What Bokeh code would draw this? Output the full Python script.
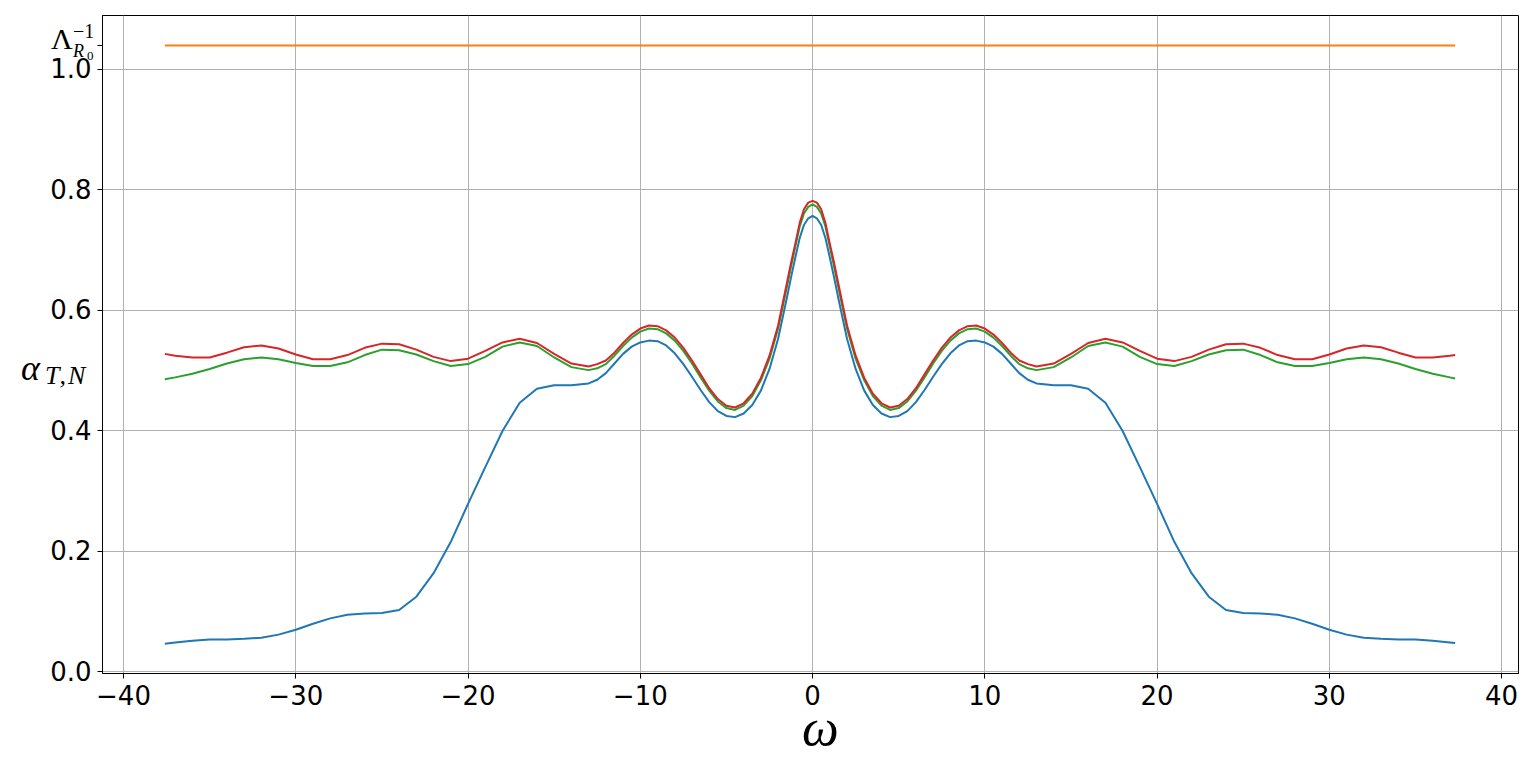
from bokeh.plotting import figure
from bokeh.models import Range1d, FixedTicker, PrintfTickFormatter, Div
from bokeh.layouts import column
from bokeh.embed import file_html
from bokeh.resources import INLINE

# ---------------- data ----------------
omega = [-37.6, -37, -36, -35, -34, -33, -32, -31, -30, -29, -28, -27, -26, -25, -24,
         -23, -22, -21, -20, -19, -18, -17, -16, -15, -14, -13,
         -12.5, -12, -11.5, -11, -10.5, -10, -9.5, -9, -8.5, -8, -7.5, -7, -6.5, -6,
         -5.5, -5, -4.5, -4, -3.5, -3, -2.5, -2, -1.5,
         -1.25, -1, -0.75, -0.5, -0.25, 0, 0.25, 0.5, 0.75, 1, 1.25,
         1.5, 2, 2.5, 3, 3.5, 4, 4.5, 5, 5.5, 6, 6.5, 7, 7.5, 8, 8.5, 9,
         9.5, 10, 10.5, 11, 11.5, 12, 12.5,
         13, 14, 15, 16, 17, 18, 19, 20, 21, 22, 23, 24, 25, 26, 27, 28, 29, 30,
         31, 32, 33, 34, 35, 36, 37, 37.3]

alpha_blue = [0.047, 0.049, 0.052, 0.054, 0.054, 0.055, 0.057, 0.062, 0.070, 0.080, 0.089, 0.095, 0.097, 0.098, 0.103,
              0.125, 0.164, 0.216, 0.279, 0.340, 0.400, 0.447, 0.470, 0.476, 0.476, 0.479,
              0.485, 0.496, 0.512, 0.528, 0.540, 0.547, 0.550, 0.549, 0.542, 0.529, 0.511, 0.490, 0.468, 0.448,
              0.433, 0.425, 0.423, 0.429, 0.443, 0.467, 0.503, 0.553, 0.620,
              0.655, 0.688, 0.720, 0.742, 0.753, 0.757, 0.753, 0.742, 0.720, 0.688, 0.655,
              0.620, 0.553, 0.503, 0.467, 0.443, 0.429, 0.423, 0.425, 0.433, 0.448, 0.468, 0.490, 0.511, 0.529, 0.542, 0.549,
              0.550, 0.547, 0.540, 0.528, 0.512, 0.496, 0.485,
              0.479, 0.476, 0.476, 0.470, 0.447, 0.400, 0.340, 0.279, 0.216, 0.164, 0.125, 0.103, 0.098, 0.097, 0.095, 0.089, 0.080, 0.070,
              0.062, 0.057, 0.055, 0.054, 0.054, 0.052, 0.049, 0.048]

alpha_green = [0.486, 0.489, 0.495, 0.503, 0.512, 0.519, 0.522, 0.519, 0.513, 0.508, 0.508, 0.514, 0.526, 0.535, 0.534,
               0.527, 0.516, 0.508, 0.511, 0.523, 0.540, 0.547, 0.541, 0.522, 0.506, 0.501,
               0.504, 0.511, 0.525, 0.541, 0.555, 0.565, 0.570, 0.569, 0.562, 0.550, 0.533, 0.512, 0.489, 0.467,
               0.449, 0.438, 0.435, 0.442, 0.458, 0.484, 0.520, 0.570, 0.638,
               0.673, 0.706, 0.739, 0.761, 0.772, 0.776, 0.772, 0.761, 0.739, 0.706, 0.673,
               0.638, 0.570, 0.520, 0.484, 0.458, 0.442, 0.435, 0.438, 0.449, 0.467, 0.489, 0.512, 0.533, 0.550, 0.562, 0.569,
               0.570, 0.565, 0.555, 0.541, 0.525, 0.511, 0.504,
               0.501, 0.506, 0.522, 0.541, 0.547, 0.540, 0.523, 0.511, 0.508, 0.516, 0.527, 0.534, 0.535, 0.526, 0.514, 0.508, 0.508, 0.513,
               0.519, 0.522, 0.519, 0.512, 0.503, 0.495, 0.489, 0.487]

alpha_red = [0.528, 0.525, 0.522, 0.522, 0.530, 0.539, 0.542, 0.537, 0.527, 0.519, 0.519, 0.526, 0.538, 0.545, 0.544,
             0.535, 0.523, 0.516, 0.520, 0.533, 0.547, 0.553, 0.546, 0.528, 0.512, 0.507,
             0.511, 0.517, 0.530, 0.546, 0.560, 0.570, 0.575, 0.574, 0.567, 0.555, 0.538, 0.517, 0.494, 0.471,
             0.453, 0.442, 0.439, 0.446, 0.462, 0.488, 0.525, 0.575, 0.644,
             0.679, 0.711, 0.745, 0.768, 0.779, 0.782, 0.779, 0.768, 0.745, 0.711, 0.679,
             0.644, 0.575, 0.525, 0.488, 0.462, 0.446, 0.439, 0.442, 0.453, 0.471, 0.494, 0.517, 0.538, 0.555, 0.567, 0.574,
             0.575, 0.570, 0.560, 0.546, 0.530, 0.517, 0.511,
             0.507, 0.512, 0.528, 0.546, 0.553, 0.547, 0.533, 0.520, 0.516, 0.523, 0.535, 0.544, 0.545, 0.538, 0.526, 0.519, 0.519, 0.527,
             0.537, 0.542, 0.539, 0.530, 0.522, 0.522, 0.525, 0.526]

lambda_inv = 1.04
omega_span = [-37.6, 37.3]
orange_vals = [lambda_inv, lambda_inv]

x_ticks = [-40, -30, -20, -10, 0, 10, 20, 30, 40]
y_ticks = [0.0, 0.2, 0.4, 0.6, 0.8, 1.0]

W, H = 1528, 755

# ---------------- figure ----------------
p = figure(width=W, height=H, output_backend="svg", toolbar_location=None,
           x_range=Range1d(-41.22, 40.98), y_range=Range1d(-0.0025, 1.0896),
           min_border_left=102, min_border_right=10, min_border_top=15, min_border_bottom=82)
p.background_fill_color = "white"
p.border_fill_color = "white"
p.outline_line_color = "black"
p.outline_line_width = 1

p.line(omega, alpha_blue, line_color="#1f77b4", line_width=2)
p.line(omega_span, orange_vals, line_color="#ff7f0e", line_width=2)
p.line(omega, alpha_green, line_color="#2ca02c", line_width=2)
p.line(omega, alpha_red, line_color="#d62728", line_width=2)

# axes
p.xaxis.ticker = FixedTicker(ticks=x_ticks)
p.xaxis.major_label_overrides = {t: (str(t).replace("-", "\u2212")) for t in x_ticks}
p.yaxis.ticker = FixedTicker(ticks=y_ticks + [lambda_inv])
p.yaxis.formatter = PrintfTickFormatter(format="%.1f")
p.yaxis.major_label_overrides = {lambda_inv: " "}
for ax in (p.xaxis[0], p.yaxis[0]):
    ax.major_label_text_font = "DejaVu Sans"
    ax.major_label_text_font_size = "26px"
    ax.major_label_text_color = "black"
    ax.axis_line_color = "black"
    ax.axis_line_width = 1
    ax.major_tick_line_color = "black"
    ax.major_tick_out = 5
    ax.major_tick_in = 0
    ax.minor_tick_line_color = None
    ax.major_label_standoff = 6

p.xgrid.ticker = FixedTicker(ticks=x_ticks)
p.ygrid.ticker = FixedTicker(ticks=y_ticks)
for g in (p.xgrid[0], p.ygrid[0]):
    g.grid_line_color = "#b0b0b0"
    g.grid_line_width = 1


# ---------------- math-style labels (HTML text laid over the canvas) ----------------
def span(text, left, baseline, size, italic=False, extra=""):
    top = baseline - 0.8375 * size  # Liberation Serif, line-height 1
    style = ("position:absolute;white-space:nowrap;line-height:1;color:black;"
             f"font-family:'Liberation Serif';font-size:{size}px;"
             f"font-style:{'italic' if italic else 'normal'};left:{left}px;top:{top:.1f}px;{extra}")
    return f'<span style="{style}">{text}</span>'


html = "".join([
    span("α", 16, 375, 36, italic=True),
    span("T,N", 40, 380, 26, italic=True, extra="letter-spacing:2px;"),
    span("Λ", 46, 44, 30),
    span("−1", 68, 33, 20),
    span("R", 68, 52, 18, italic=True),
    span("0", 82, 55, 13),
    span("ω", 797, 740, 52, italic=True),
])

overlay = Div(text=html, width=W, height=H,
              styles={"position": "absolute", "left": "0px", "top": "0px",
                      "z-index": "10", "pointer-events": "none"})

layout = column(p, overlay)

open("out.html", "w").write(file_html(layout, INLINE))
